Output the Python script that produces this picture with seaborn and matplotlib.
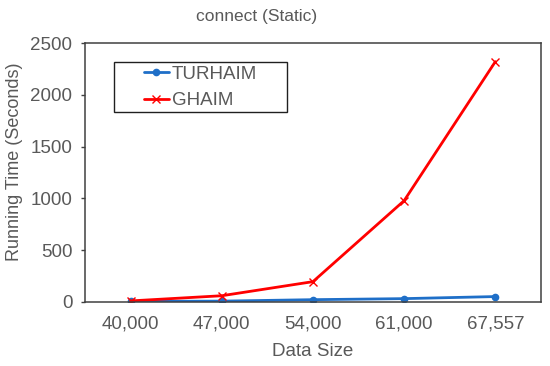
import pandas as pd
import seaborn as sns
import matplotlib.pyplot as plt
from matplotlib.patches import Rectangle

# values
sizes = ['40,000', '47,000', '54,000', '61,000', '67,557']
turhaim = [5, 8, 22, 32, 52]
ghaim = [10, 60, 196, 978, 2320]

df = pd.DataFrame({'Data Size': sizes, 'TURHAIM': turhaim, 'GHAIM': ghaim})

sns.set_theme(style='white')
plt.rcParams['font.family'] = ['Liberation Sans', 'DejaVu Sans']
text_col = '#595959'

fig = plt.figure(figsize=(5.5, 3.66), dpi=100)
ax = fig.add_axes([0.1545, 0.175, 0.829, 0.7075])

# two series drawn separately (filled 'o' and line-art 'x' can't share one call)
sns.lineplot(data=df, x='Data Size', y='TURHAIM', color='#1f6fc8', marker='o',
             markersize=5.5, markeredgewidth=0, linewidth=2, label='TURHAIM',
             ax=ax, sort=False)
sns.lineplot(data=df, x='Data Size', y='GHAIM', color='#ff0000', marker='x',
             markersize=6, markeredgewidth=1.0, markeredgecolor='#ff0000',
             linewidth=2, label='GHAIM', ax=ax, sort=False)

ax.set_xlim(-0.5, 4.5)
ax.set_ylim(0, 2500)
ax.set_yticks([0, 500, 1000, 1500, 2000, 2500])
ax.tick_params(axis='y', left=True, length=3, width=1, color='#404040',
               labelsize=13.5, labelcolor=text_col, pad=6)
ax.tick_params(axis='x', bottom=False, labelsize=13.5, labelcolor=text_col, pad=3.5)
for s in ax.spines.values():
    s.set_color('#404040')
    s.set_linewidth(1.1)

ax.set_xlabel('Data Size', fontsize=13.5, color=text_col, labelpad=7.5)
ax.set_ylabel('Running Time (Seconds)', fontsize=13, color=text_col)
ax.yaxis.set_label_coords(-0.136, 0.54)
fig.text(0.467, 1 - 16 / 366, 'connect (Static)', fontsize=12.5,
         color=text_col, ha='center', va='center')

# Excel-style legend: square box, entries inset from the left
ax.add_patch(Rectangle((0.0636, 0.7336), 0.379, 0.193, transform=ax.transAxes,
                       fill=False, edgecolor='#202020', linewidth=1.0, zorder=5))
leg = ax.legend(loc='upper left', bbox_to_anchor=(0.129, 0.912), fontsize=13.5,
                frameon=False, handlelength=1.35, handletextpad=0.16,
                borderpad=0, labelspacing=0.5, borderaxespad=0)
for t in leg.get_texts():
    t.set_color(text_col)

fig.savefig('out.png', dpi=100)
